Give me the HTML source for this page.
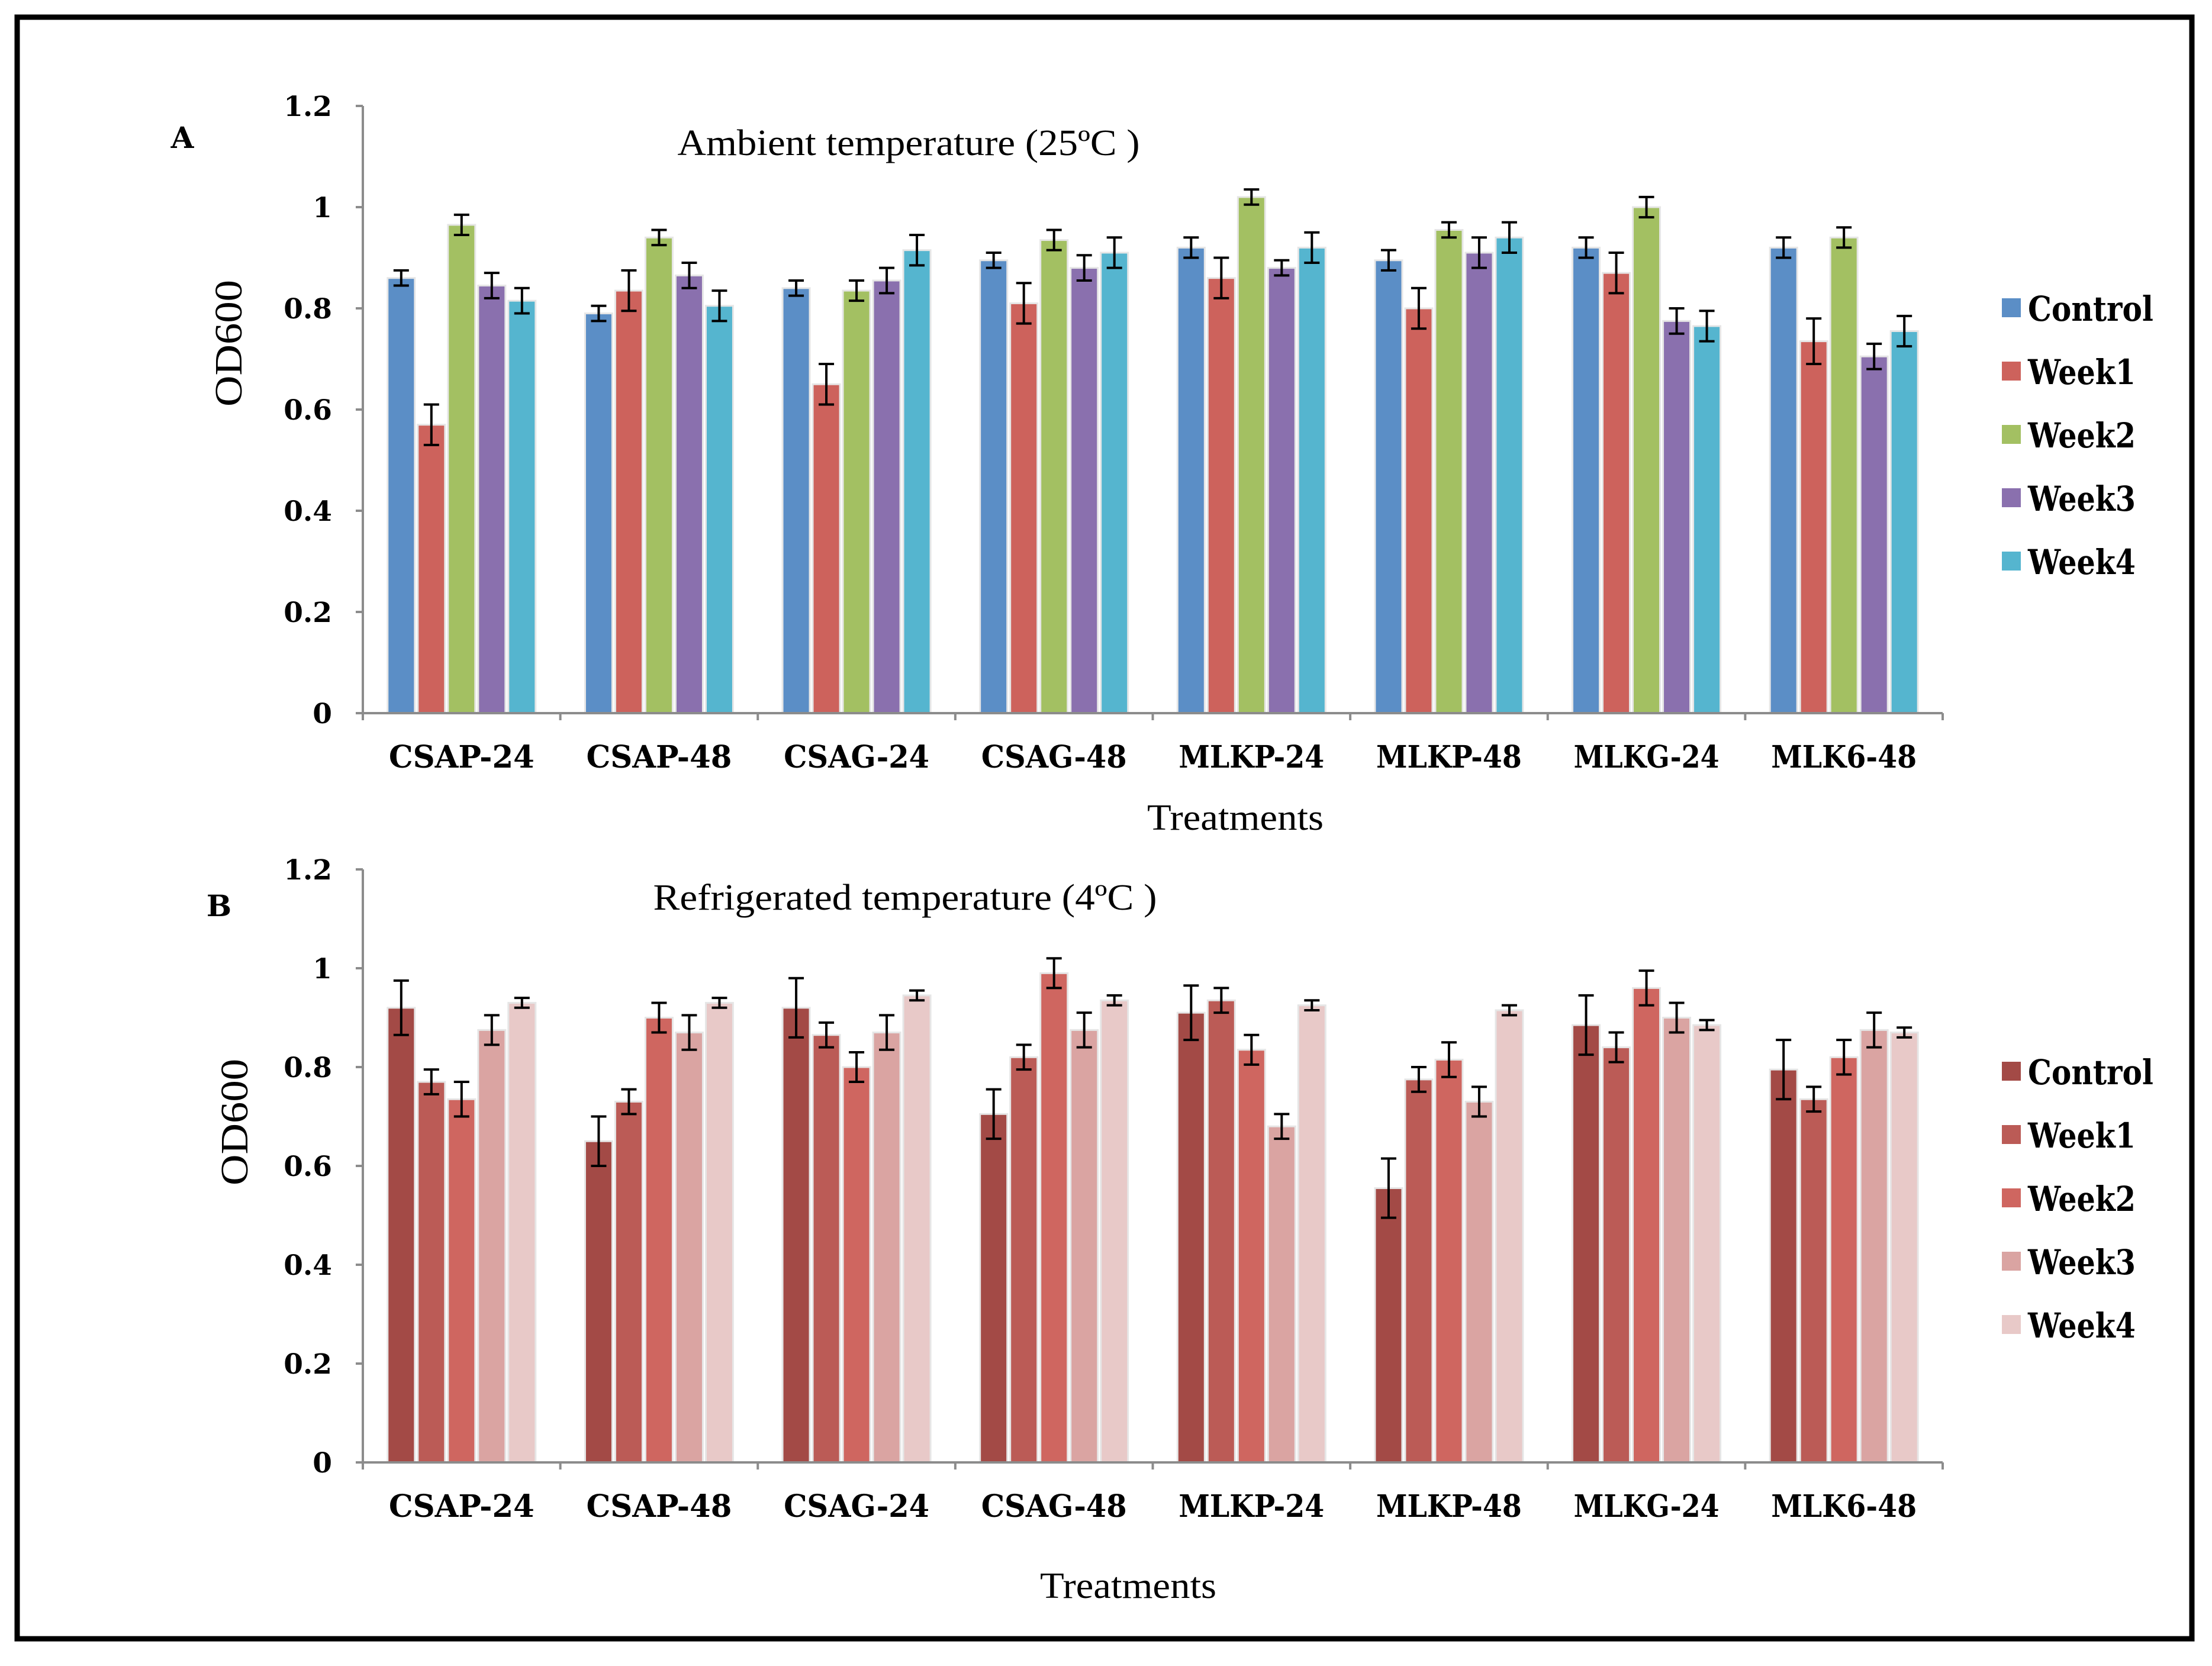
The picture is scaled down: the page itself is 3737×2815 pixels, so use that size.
<!DOCTYPE html>
<html><head><meta charset="utf-8">
<style>
html,body{margin:0;padding:0;background:#fff;}
svg{display:block;font-family:"Liberation Serif",serif;}
.b{font-family:"DejaVu Serif","Liberation Serif",serif;font-weight:bold;}
</style></head>
<body>
<svg id="fig" width="3737" height="2815" viewBox="0 0 3737 2815" xmlns="http://www.w3.org/2000/svg">
<rect x="29" y="29" width="3674" height="2740" fill="none" stroke="#000" stroke-width="9"/>
</svg>
<script>
const categories = ["CSAP-24","CSAP-48","CSAG-24","CSAG-48","MLKP-24","MLKP-48","MLKG-24","MLK6-48"];
const seriesNames = ["Control","Week1","Week2","Week3","Week4"];
const yTicks = [0,0.2,0.4,0.6,0.8,1,1.2];
const yTickLabels = ["0","0.2","0.4","0.6","0.8","1","1.2"];
// Panel A values (per series, per category)
const aControl = [0.86,0.79,0.84,0.895,0.92,0.895,0.92,0.92];
const aWeek1   = [0.57,0.835,0.65,0.81,0.86,0.80,0.87,0.735];
const aWeek2   = [0.965,0.94,0.835,0.935,1.02,0.955,1.0,0.94];
const aWeek3   = [0.845,0.865,0.855,0.88,0.88,0.91,0.775,0.705];
const aWeek4   = [0.815,0.805,0.915,0.91,0.92,0.94,0.765,0.755];
const aErrControl = [0.015,0.015,0.015,0.015,0.02,0.02,0.02,0.02];
const aErrWeek1   = [0.04,0.04,0.04,0.04,0.04,0.04,0.04,0.045];
const aErrWeek2   = [0.02,0.015,0.02,0.02,0.015,0.015,0.02,0.02];
const aErrWeek3   = [0.025,0.025,0.025,0.025,0.015,0.03,0.025,0.025];
const aErrWeek4   = [0.025,0.03,0.03,0.03,0.03,0.03,0.03,0.03];
// Panel B values
const bControl = [0.92,0.65,0.92,0.705,0.91,0.555,0.885,0.795];
const bWeek1   = [0.77,0.73,0.865,0.82,0.935,0.775,0.84,0.735];
const bWeek2   = [0.735,0.90,0.80,0.99,0.835,0.815,0.96,0.82];
const bWeek3   = [0.875,0.87,0.87,0.875,0.68,0.73,0.90,0.875];
const bWeek4   = [0.93,0.93,0.945,0.935,0.925,0.915,0.885,0.87];
const bErrControl = [0.055,0.05,0.06,0.05,0.055,0.06,0.06,0.06];
const bErrWeek1   = [0.025,0.025,0.025,0.025,0.025,0.025,0.03,0.025];
const bErrWeek2   = [0.035,0.03,0.03,0.03,0.03,0.035,0.035,0.035];
const bErrWeek3   = [0.03,0.035,0.035,0.035,0.025,0.03,0.03,0.035];
const bErrWeek4   = [0.01,0.01,0.01,0.01,0.01,0.01,0.01,0.01];

const NS="http://www.w3.org/2000/svg";
const svg=document.getElementById('fig');
function mk(tag,attrs,parent){const e=document.createElementNS(NS,tag);for(const k in attrs)e.setAttribute(k,attrs[k]);(parent||svg).appendChild(e);return e;}

function panel(cfg){
  const g=mk('g',{});
  
  
  const x0=613,x1=3282,y0=cfg.yZero,yTop=cfg.yTop;
  const yS=v=>y0-(v/1.2)*(y0-yTop);
  const cw=(x1-x0)/categories.length;
  const bw=46,pitch=51;
  cfg.values.forEach((vals,s)=>{
    vals.forEach((v,c)=>{
      const cx=x0+cw*c+cw/2;
      const bx=cx-2.5*pitch+s*pitch+(pitch-bw)/2;
      const r=mk('rect',{x:bx,y:yS(v),width:bw,height:y0-yS(v),fill:cfg.colors[s],stroke:'#e6e6e6','stroke-width':3},g);
      
      
      const e=cfg.errs[s][c],mx=bx+bw/2;
      const eb=mk('path',{d:`M${mx},${yS(v+e)}V${yS(v-e)}M${mx-13},${yS(v+e)}H${mx+13}M${mx-13},${yS(v-e)}H${mx+13}`,stroke:'#000','stroke-width':4,fill:'none'},g);
      
      
    });
  });
  const ya=mk('line',{x1:x0,y1:yTop,x2:x0,y2:y0,stroke:'#8c8c8c','stroke-width':4},g);
  
  
  const xa=mk('line',{x1:x0,y1:y0,x2:x1,y2:y0,stroke:'#8c8c8c','stroke-width':4},g);
  
  
  yTicks.forEach((t,i)=>{
    mk('line',{x1:x0-12,y1:yS(t),x2:x0,y2:yS(t),stroke:'#8c8c8c','stroke-width':4},g);
    const tx=mk('text',{x:561,y:yS(t)+17,'text-anchor':'end','font-size':47,class:'b'},g);
    tx.textContent=yTickLabels[i];
    
    
  });
  for(let c=0;c<=categories.length;c++){
    mk('line',{x1:x0+cw*c,y1:y0,x2:x0+cw*c,y2:y0+12,stroke:'#8c8c8c','stroke-width':4},g);
  }
  categories.forEach((n,c)=>{
    const tx=mk('text',{x:x0+cw*c+cw/2,y:y0+92,'text-anchor':'middle','font-size':52,class:'b',textLength:246,lengthAdjust:'spacingAndGlyphs'},g);
    tx.textContent=n;
    
    
  });
  const xt=mk('text',{x:cfg.xTitleX,y:cfg.xTitleY,'text-anchor':'middle','font-size':62,textLength:298,lengthAdjust:'spacingAndGlyphs'},g);
  xt.textContent='Treatments';
  
  
  const yt=mk('text',{x:0,y:0,'text-anchor':'middle','font-size':66,textLength:214,lengthAdjust:'spacingAndGlyphs',transform:`translate(${cfg.yTitleX},${cfg.yTitleY}) rotate(-90)`},g);
  yt.textContent='OD600';
  
  
  const ti=mk('text',{x:cfg.titleX,y:cfg.titleY,'text-anchor':'middle','font-size':62,textLength:cfg.titleW,lengthAdjust:'spacingAndGlyphs'},g);
  ti.textContent=cfg.title;
  
  
  const lb=mk('text',{x:cfg.letterX,y:cfg.letterY,'text-anchor':'middle','font-size':50,class:'b'},g);
  lb.textContent=cfg.letter;
  
  
  seriesNames.forEach((n,s)=>{
    const ly=cfg.yTop+341+s*107;
    const lg=mk('g',{},g);
    
    
    mk('rect',{x:3382,y:ly-16,width:32,height:32,fill:cfg.colors[s]},lg);
    const t=mk('text',{x:3426,y:ly+22,'font-size':58,class:'b',textLength:(s===0?212:182),lengthAdjust:'spacingAndGlyphs'},lg);
    t.textContent=n;
  });
}
panel({name:'panel-a-ambient',yTop:179,yZero:1205,values:[aControl,aWeek1,aWeek2,aWeek3,aWeek4],
  errs:[aErrControl,aErrWeek1,aErrWeek2,aErrWeek3,aErrWeek4],
  colors:['#5b8ec6','#cd625c','#a3c062','#8a70ae','#55b5cf'],
  title:'Ambient temperature (25ºC )',titleW:781,titleX:1535,titleY:262,letter:'A',letterX:308,letterY:250,
  xTitleX:2087,xTitleY:1402,yTitleX:408,yTitleY:580});
panel({name:'panel-b-refrigerated',yTop:1469,yZero:2471,values:[bControl,bWeek1,bWeek2,bWeek3,bWeek4],
  errs:[bErrControl,bErrWeek1,bErrWeek2,bErrWeek3,bErrWeek4],
  colors:['#a34a46','#bb5b56','#cf6660','#daa4a2','#e8c9c8'],
  title:'Refrigerated temperature (4ºC )',titleW:851,titleX:1529,titleY:1537,letter:'B',letterX:370,letterY:1548,
  xTitleX:1906,xTitleY:2700,yTitleX:418,yTitleY:1896});
</script>
</body></html>
